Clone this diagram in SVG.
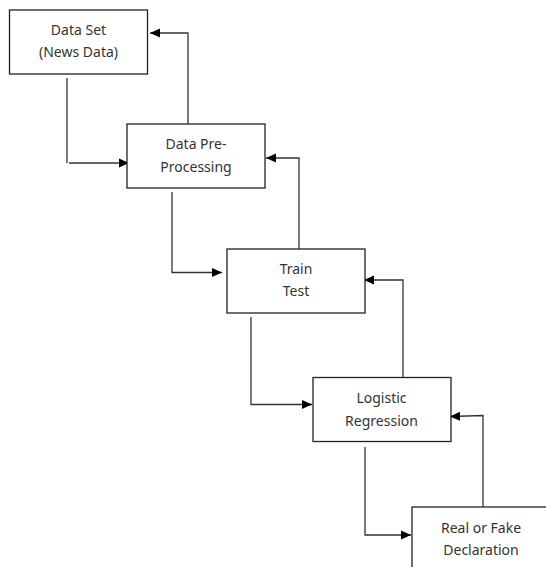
<svg xmlns="http://www.w3.org/2000/svg" width="546" height="567" viewBox="0 0 546 567">
<style>
.box{fill:#fff;stroke:#222;stroke-width:1.3}
.t{font-family:"Noto Sans","Liberation Sans",sans-serif;font-size:14px;fill:#333;text-anchor:middle}
.c{fill:none;stroke:#333;stroke-width:1.3}
</style>
<defs>
<marker id="ah" viewBox="0 0 10 10" refX="10" refY="5" markerWidth="10" markerHeight="10" markerUnits="userSpaceOnUse" orient="auto">
<path d="M0,0.5 L10,5 L0,9.5 Z" fill="#000"/>
</marker>
</defs>
<rect width="546" height="567" fill="#fff"/>
<g id="connectors">
<polyline class="c" points="67,78 67,163"/>
<polyline class="c" points="69,163 129,163" marker-end="url(#ah)"/>
<polyline class="c" points="188,124 188,33 150,33" marker-end="url(#ah)"/>
<polyline class="c" points="172,192 172,272.5 222,272.5" marker-end="url(#ah)"/>
<polyline class="c" points="299,249 299,158 266,158" marker-end="url(#ah)"/>
<polyline class="c" points="251,317 251,404.5 312,404.5" marker-end="url(#ah)"/>
<polyline class="c" points="403,377 403,280 364,280" marker-end="url(#ah)"/>
<polyline class="c" points="365,447 365,535 411,535" marker-end="url(#ah)"/>
<polyline class="c" points="483,507 483,415.5 450,416.5" marker-end="url(#ah)"/>
</g>
<g id="n1">
<rect class="box" x="9.5" y="10" width="138" height="64"/>
<text class="t" x="78.5" y="35">Data Set</text>
<text class="t" x="78.5" y="57">(News Data)</text>
</g>
<g id="n2">
<rect class="box" x="127" y="124" width="138" height="64"/>
<text class="t" x="196" y="149">Data Pre-</text>
<text class="t" x="196" y="171.5">Processing</text>
</g>
<g id="n3">
<rect class="box" x="227" y="249" width="138" height="64"/>
<text class="t" x="296" y="273.5">Train</text>
<text class="t" x="296" y="296">Test</text>
</g>
<g id="n4">
<rect class="box" x="313" y="377.5" width="138" height="64"/>
<text class="t" x="381.5" y="403">Logistic</text>
<text class="t" x="381.5" y="425.5">Regression</text>
</g>
<g id="n5">
<rect class="box" x="412" y="507" width="138" height="64"/>
<text class="t" x="481" y="533">Real or Fake</text>
<text class="t" x="481" y="555">Declaration</text>
</g>
</svg>
